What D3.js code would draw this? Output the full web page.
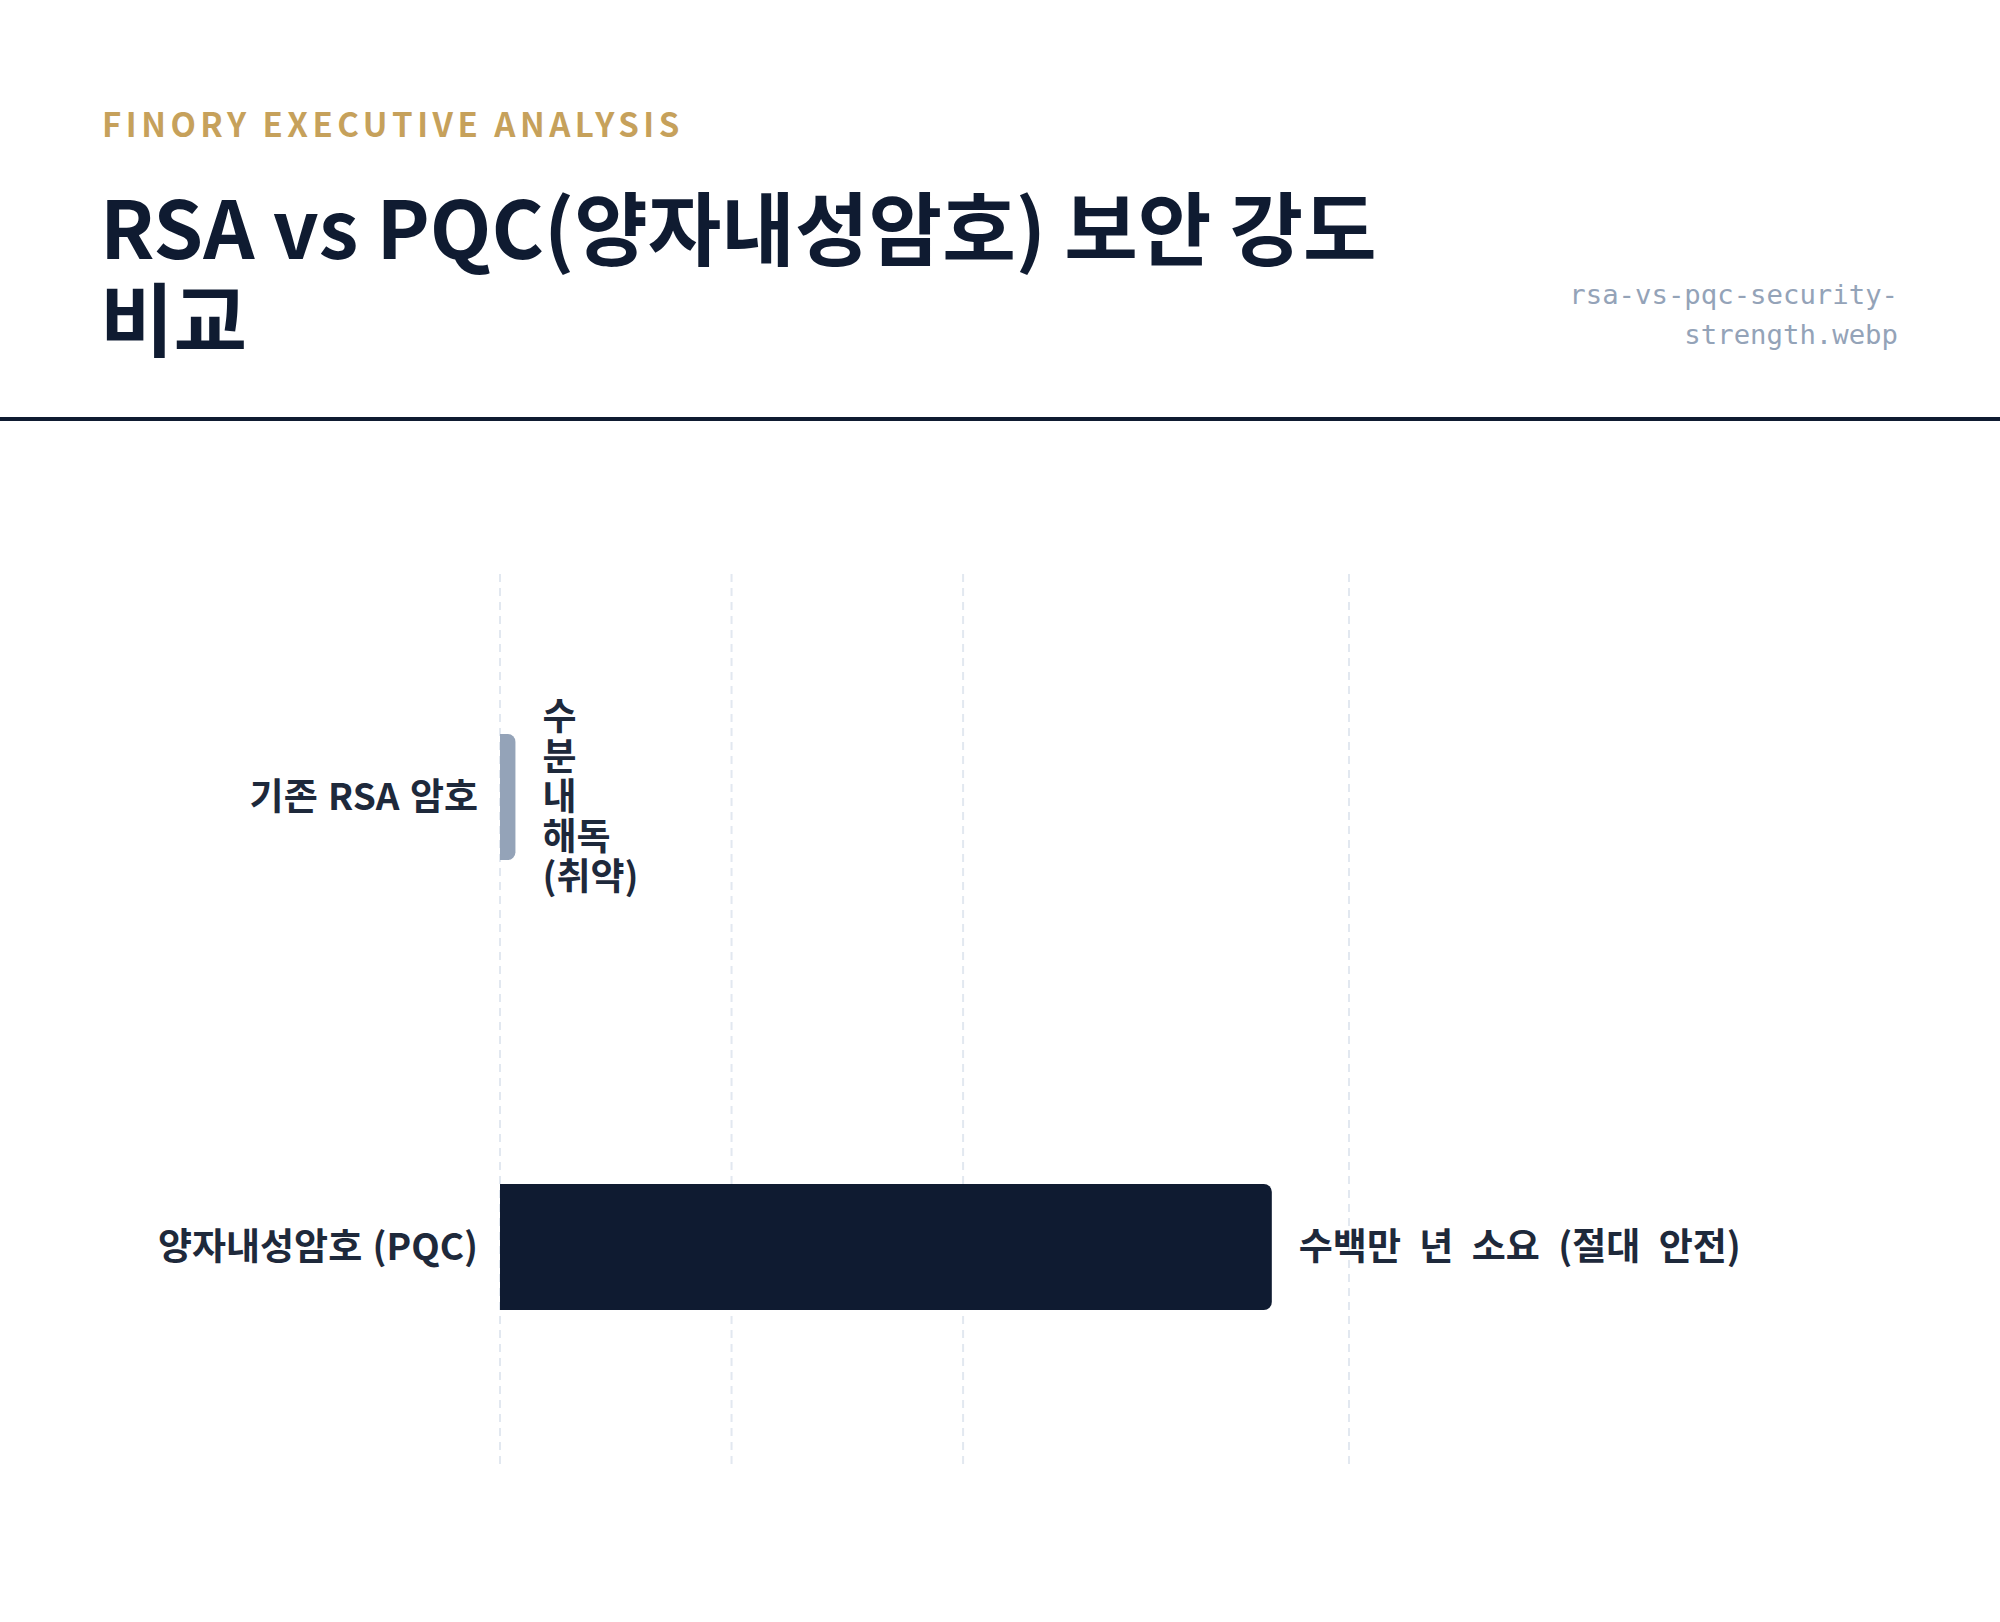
<!DOCTYPE html>
<html>
<head>
<meta charset="utf-8">
<script src="https://cdn.jsdelivr.net/npm/d3@7"></script>
<style>
  html, body { margin: 0; padding: 0; background: #ffffff; }
  svg { display: block; }
</style>
</head>
<body>
<svg id="canvas" width="2000" height="1622"></svg>
<script>
"use strict"

// chart data
const categories = ["기존 RSA 암호", "양자내성암호 (PQC)"];
const values = [2, 100];
const valueLabels = [["수", "분", "내", "해독", "(취약)"], ["수백만 년 소요 (절대 안전)"]];
const gridTicks = [0, 30, 60, 110];

const barColors = ["#94a3b8", "#0f1b31"];
const font = "'Noto Sans CJK KR', 'Noto Sans', sans-serif";

let drawing = d3.select("#canvas");

// white page
drawing.append("rect")
    .attr("width", 2000)
    .attr("height", 1622)
    .attr("fill", "#ffffff");

/* header */
drawing.append("text")
    .attr("x", 102)
    .attr("y", 137)
    .attr("font-family", font)
    .attr("font-size", 33)
    .attr("font-weight", 700)
    .attr("letter-spacing", 4.5)
    .attr("fill", "#c6a15b")
    .text("FINORY EXECUTIVE ANALYSIS");

let titleLines = ["RSA vs PQC(양자내성암호) 보안 강도", "비교"];
drawing.append("g").selectAll("text")
    .data(titleLines)
    .join("text")
    .attr("x", 100)
    .attr("y", (d, i) => 259 + i * 91)
    .attr("font-family", font)
    .attr("font-size", 80)
    .attr("font-weight", 700)
    .attr("fill", "#0f1b31")
    .text(d => d);

let fileLines = ["rsa-vs-pqc-security-", "strength.webp"];
drawing.append("g").selectAll("text")
    .data(fileLines)
    .join("text")
    .attr("x", 1898)
    .attr("y", (d, i) => 304 + i * 40)
    .attr("text-anchor", "end")
    .attr("font-family", "'DejaVu Sans Mono', monospace")
    .attr("font-size", 27.3)
    .attr("fill", "#94a3b8")
    .text(d => d);

// divider under the header
drawing.append("rect")
    .attr("x", 0)
    .attr("y", 417)
    .attr("width", 2000)
    .attr("height", 4)
    .attr("fill", "#0f1b31");

/* chart */
let x = d3.scaleLinear()
    .domain([0, 110])
    .range([500, 1349]);

let y = d3.scaleBand()
    .domain(categories)
    .range([572, 1472])
    .paddingInner(0.72)
    .paddingOuter(0.36);

// dashed grid lines
drawing.append("g").selectAll("line")
    .data(gridTicks)
    .join("line")
    .attr("x1", d => x(d))
    .attr("x2", d => x(d))
    .attr("y1", 574)
    .attr("y2", 1467)
    .attr("stroke", "#e2e8f0")
    .attr("stroke-width", 2)
    .attr("stroke-dasharray", "8,6");

// bar with rounded right end only
function barPath(x0, y0, w, h, r) {
    r = Math.min(r, w / 2, h / 2);
    return "M" + x0 + "," + y0 +
        "H" + (x0 + w - r) +
        "A" + r + "," + r + " 0 0 1 " + (x0 + w) + "," + (y0 + r) +
        "V" + (y0 + h - r) +
        "A" + r + "," + r + " 0 0 1 " + (x0 + w - r) + "," + (y0 + h) +
        "H" + x0 + "Z";
}

let rows = categories.map((c, i) => ({ cat: c, value: values[i], label: valueLabels[i], color: barColors[i] }));

drawing.append("g").selectAll("path")
    .data(rows)
    .join("path")
    .attr("d", d => barPath(x(0), y(d.cat), x(d.value) - x(0), y.bandwidth(), 8))
    .attr("fill", d => d.color);

// category labels
drawing.append("g").selectAll("text")
    .data(rows)
    .join("text")
    .attr("x", x(0) - 22)
    .attr("y", d => y(d.cat) + y.bandwidth() / 2)
    .attr("dy", "0.35em")
    .attr("text-anchor", "end")
    .attr("font-family", font)
    .attr("font-size", 37)
    .attr("font-weight", 700)
    .attr("word-spacing", 2)
    .attr("fill", "#1e293b")
    .text(d => d.cat);

// value labels (the short bar's label wraps into a narrow column)
let lineH = 40;
let valueText = drawing.append("g").selectAll("text")
    .data(rows)
    .join("text")
    .attr("x", d => x(d.value) + 27)
    .attr("y", d => y(d.cat) + y.bandwidth() / 2 - (d.label.length - 1) * lineH / 2)
    .attr("font-family", font)
    .attr("font-size", 37)
    .attr("font-weight", 700)
    .attr("word-spacing", 10)
    .attr("fill", "#1e293b");

valueText.selectAll("tspan")
    .data(d => d.label.map(l => ({ text: l, x: x(d.value) + 27 })))
    .join("tspan")
    .attr("x", d => d.x)
    .attr("dy", (d, i) => i === 0 ? "0.35em" : lineH)
    .text(d => d.text);
</script>
</body>
</html>
